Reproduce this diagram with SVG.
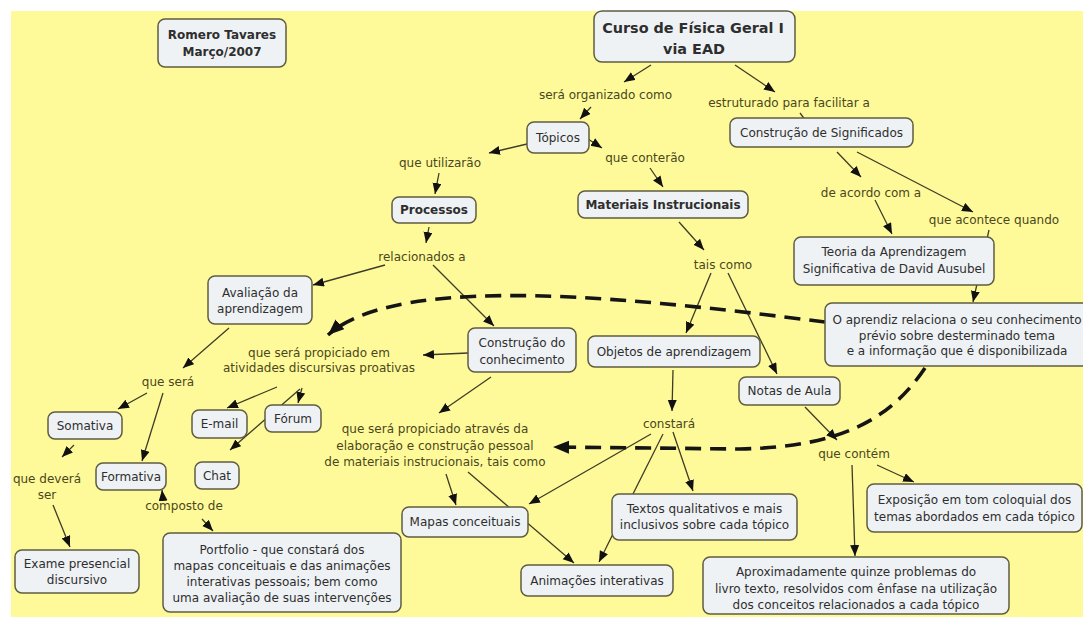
<svg xmlns="http://www.w3.org/2000/svg" width="1083" height="617" viewBox="0 0 1083 617">
<defs>
<style>
.t{font-family:"DejaVu Sans",Verdana,sans-serif;font-size:12px;text-anchor:middle}
.n rect{fill:#EEF2F5;stroke:#5f5c40;stroke-width:1.5}
.n text{fill:#2e2e2e}
.l text{fill:#4a4720}
.b{font-weight:bold}
.c{fill:none;stroke:#3e3c28;stroke-width:1.3;marker-end:url(#ah)}
.p{fill:none;stroke:#3e3c28;stroke-width:1.3}
.d{fill:none;stroke:#151515;stroke-width:3.6;stroke-dasharray:16 9;marker-end:url(#ahd)}
</style>
<marker id="ah" markerUnits="userSpaceOnUse" markerWidth="12" markerHeight="10" refX="11" refY="4.5" orient="auto"><path d="M0,0 L11,4.5 L0,9 z" fill="#111"/></marker>
<marker id="ahd" markerUnits="userSpaceOnUse" markerWidth="18" markerHeight="14" refX="16" refY="6.5" orient="auto"><path d="M0,0 L16,6.5 L0,13 z" fill="#111"/></marker>
</defs>
<rect width="1083" height="617" fill="#ffffff"/>
<rect x="11" y="11" width="1072" height="606" fill="#FFFA99"/>

<g id="connectors">
<line class="c" x1="651" y1="65" x2="624" y2="82"/>
<line class="c" x1="591" y1="107" x2="580" y2="119"/>
<line class="c" x1="527" y1="144" x2="489" y2="153"/>
<line class="c" x1="439" y1="173" x2="435" y2="194"/>
<line class="c" x1="588" y1="139" x2="602" y2="148"/>
<line class="c" x1="650" y1="168" x2="663" y2="187"/>
<line class="c" x1="735" y1="65" x2="775" y2="92"/>
<line class="p" x1="800" y1="113" x2="806" y2="121"/>
<line class="c" x1="837" y1="152" x2="861" y2="177"/>
<line class="c" x1="857" y1="152" x2="973" y2="212"/>
<line class="c" x1="875" y1="200" x2="892" y2="234"/>
<line class="c" x1="989" y1="230" x2="973" y2="302"/>
<line class="c" x1="679" y1="222" x2="704" y2="250"/>
<line class="c" x1="711" y1="273" x2="686" y2="333"/>
<line class="c" x1="728" y1="273" x2="777" y2="374"/>
<line class="c" x1="673" y1="370" x2="672" y2="411"/>
<line class="c" x1="651" y1="434" x2="529" y2="504"/>
<line class="c" x1="663" y1="434" x2="599" y2="562"/>
<line class="c" x1="673" y1="432" x2="693" y2="491"/>
<line class="c" x1="805" y1="407" x2="837" y2="440"/>
<line class="c" x1="877" y1="465" x2="914" y2="482"/>
<line class="c" x1="852" y1="465" x2="855" y2="556"/>
<line class="c" x1="429" y1="227" x2="426" y2="243"/>
<line class="c" x1="385" y1="265" x2="313" y2="285"/>
<line class="c" x1="433" y1="265" x2="494" y2="326"/>
<line class="c" x1="468" y1="353" x2="423" y2="355"/>
<line class="c" x1="491" y1="377" x2="439" y2="413"/>
<line class="c" x1="229" y1="328" x2="183" y2="368"/>
<line class="c" x1="147" y1="393" x2="118" y2="409"/>
<line class="c" x1="163" y1="393" x2="142" y2="461"/>
<line class="c" x1="277" y1="387" x2="227" y2="408"/>
<line class="c" x1="302" y1="388" x2="298" y2="403"/>
<line class="c" x1="300" y1="389" x2="230" y2="450"/>
<line class="c" x1="74" y1="445" x2="62" y2="457"/>
<line class="c" x1="53" y1="505" x2="70" y2="547"/>
<line class="c" x1="163" y1="500" x2="162" y2="490"/>
<line class="c" x1="202" y1="519" x2="213" y2="531"/>
<line class="c" x1="446" y1="474" x2="456" y2="505"/>
<line class="c" x1="468" y1="472" x2="574" y2="563"/>
<path class="d" d="M825,322 C650,300 400,270 328,335"/>
<path class="d" d="M925,368 C890,420 840,447 740,449 L553,447"/>
</g>

<g id="romero" class="n"><rect x="158" y="19" width="128" height="48" rx="7"/><text class="t b" x="222" y="39.3">Romero Tavares</text><text class="t b" x="222" y="56.3">Março/2007</text></g>
<g id="curso" class="n"><rect x="594" y="11" width="201" height="51" rx="8"/><text class="t b" x="693" y="33.3" style="font-size:14.4px">Curso de Física Geral I</text><text class="t b" x="694" y="53.5" style="font-size:14.4px">via EAD</text></g>
<g id="topicos" class="n"><rect x="527" y="122" width="62" height="31" rx="7"/><text class="t" x="558" y="142">Tópicos</text></g>
<g id="processos" class="n"><rect x="392" y="197" width="84" height="26" rx="7"/><text class="t b" x="434" y="214.3">Processos</text></g>
<g id="materiais" class="n"><rect x="578" y="191" width="170" height="27" rx="7"/><text class="t b" x="663" y="209">Materiais Instrucionais</text></g>
<g id="construcao-significados" class="n"><rect x="730" y="118" width="183" height="29" rx="7"/><text class="t" x="821.5" y="137">Construção de Significados</text></g>
<g id="teoria" class="n"><rect x="794" y="237" width="200" height="48" rx="7"/><text class="t" x="894" y="256.3">Teoria da Aprendizagem</text><text class="t" x="894" y="273.3">Significativa de David Ausubel</text></g>
<g id="aprendiz" class="n"><rect x="825" y="303" width="266" height="63" rx="7"/><text class="t" x="957" y="324.3">O aprendiz relaciona o seu conhecimento</text><text class="t" x="957" y="339.8">prévio sobre desterminado tema</text><text class="t" x="957" y="355.3">e a informação que é disponibilizada</text></g>
<g id="avaliacao" class="n"><rect x="208" y="276" width="104" height="48" rx="7"/><text class="t" x="260" y="297.3">Avaliação da</text><text class="t" x="260" y="313.3">aprendizagem</text></g>
<g id="construcao-conhecimento" class="n"><rect x="468" y="328" width="108" height="44" rx="7"/><text class="t" x="522" y="347.3">Construção do</text><text class="t" x="522" y="364.3">conhecimento</text></g>
<g id="objetos" class="n"><rect x="588" y="336" width="172" height="31" rx="7"/><text class="t" x="674" y="356.3">Objetos de aprendizagem</text></g>
<g id="notas" class="n"><rect x="739" y="377" width="101" height="28" rx="7"/><text class="t" x="789.5" y="395.3">Notas de Aula</text></g>
<g id="somativa" class="n"><rect x="48" y="412" width="74" height="27" rx="7"/><text class="t" x="85" y="429.8">Somativa</text></g>
<g id="email" class="n"><rect x="192" y="410" width="55" height="28" rx="7"/><text class="t" x="219.5" y="428.3">E-mail</text></g>
<g id="forum" class="n"><rect x="265" y="405" width="56" height="27" rx="7"/><text class="t" x="293" y="422.8">Fórum</text></g>
<g id="chat" class="n"><rect x="195" y="462" width="44" height="27" rx="7"/><text class="t" x="217" y="479.8">Chat</text></g>
<g id="formativa" class="n"><rect x="96" y="463" width="70" height="27" rx="7"/><text class="t" x="131" y="480.8">Formativa</text></g>
<g id="exame" class="n"><rect x="15" y="550" width="124" height="43" rx="7"/><text class="t" x="77" y="568.3">Exame presencial</text><text class="t" x="77" y="584.3">discursivo</text></g>
<g id="portfolio" class="n"><rect x="163" y="533" width="238" height="79" rx="7"/><text class="t" x="282" y="554.3">Portfolio - que constará dos</text><text class="t" x="282" y="570.3">mapas conceituais e das animações</text><text class="t" x="282" y="586.3">interativas pessoais; bem como</text><text class="t" x="282" y="602.3">uma avaliação de suas intervenções</text></g>
<g id="mapas" class="n"><rect x="402" y="507" width="126" height="30" rx="7"/><text class="t" x="465" y="526.3">Mapas conceituais</text></g>
<g id="textos" class="n"><rect x="612" y="494" width="185" height="46" rx="7"/><text class="t" x="704.5" y="513.3">Textos qualitativos e mais</text><text class="t" x="704.5" y="529.3">inclusivos sobre cada tópico</text></g>
<g id="animacoes" class="n"><rect x="521" y="565" width="152" height="31" rx="7"/><text class="t" x="597" y="584.8">Animações interativas</text></g>
<g id="exposicao" class="n"><rect x="867" y="484" width="215" height="48" rx="7"/><text class="t" x="974.5" y="504.3">Exposição em tom coloquial dos</text><text class="t" x="974.5" y="521.3">temas abordados em cada tópico</text></g>
<g id="aproximadamente" class="n"><rect x="703" y="557" width="306" height="57" rx="7"/><text class="t" x="856" y="576.3">Aproximadamente quinze problemas do</text><text class="t" x="856" y="593.3">livro texto, resolvidos com ênfase na utilização</text><text class="t" x="856" y="609.3">dos conceitos relacionados a cada tópico</text></g>

<g id="l-organizado" class="l"><text class="t" x="605.5" y="99.3">será organizado como</text></g>
<g id="l-utilizarao" class="l"><text class="t" x="440" y="167.3">que utilizarão</text></g>
<g id="l-conterao" class="l"><text class="t" x="645" y="162.3">que conterão</text></g>
<g id="l-estruturado" class="l"><text class="t" x="789" y="107.3">estruturado para facilitar a</text></g>
<g id="l-acordo" class="l"><text class="t" x="871" y="197.3">de acordo com a</text></g>
<g id="l-acontece" class="l"><text class="t" x="994" y="224.3">que acontece quando</text></g>
<g id="l-relacionados" class="l"><text class="t" x="422" y="261.3">relacionados a</text></g>
<g id="l-taiscomo" class="l"><text class="t" x="723" y="269.3">tais como</text></g>
<g id="l-propiciado-em" class="l"><text class="t" x="319" y="357.3">que será propiciado em</text><text class="t" x="319" y="372.3">atividades discursivas proativas</text></g>
<g id="l-quesera" class="l"><text class="t" x="168" y="386.3">que será</text></g>
<g id="l-constara" class="l"><text class="t" x="669" y="428.3">constará</text></g>
<g id="l-contem" class="l"><text class="t" x="854" y="458.3">que contém</text></g>
<g id="l-propiciado-atraves" class="l"><text class="t" x="435" y="433.3">que será propiciado através da</text><text class="t" x="435" y="450.3">elaboração e construção pessoal</text><text class="t" x="435" y="466.3">de materiais instrucionais, tais como</text></g>
<g id="l-devera" class="l"><text class="t" x="47" y="483.3">que deverá</text><text class="t" x="47" y="499.3">ser</text></g>
<g id="l-composto" class="l"><text class="t" x="184" y="510.3">composto de</text></g>
</svg>
